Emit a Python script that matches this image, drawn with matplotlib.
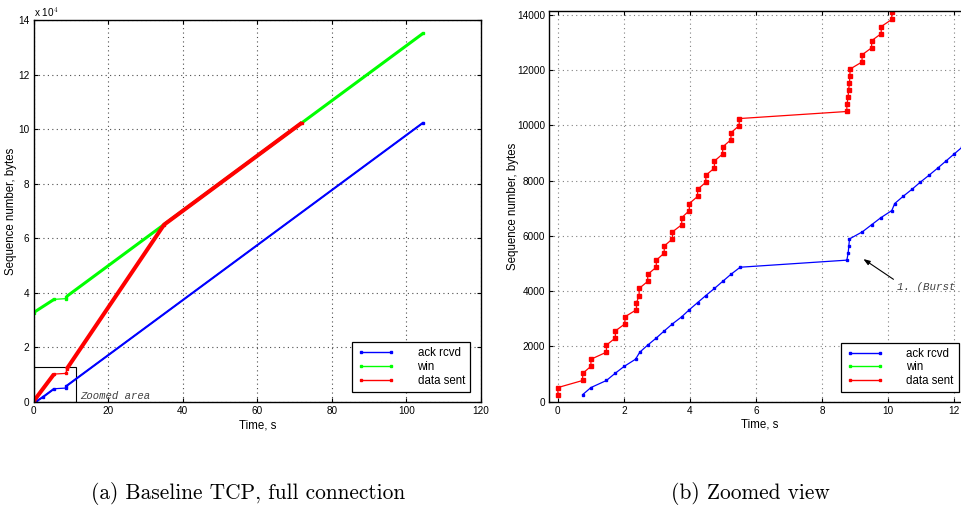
import numpy as np
import matplotlib
matplotlib.use('Agg')
import matplotlib.pyplot as plt
from matplotlib.lines import Line2D
from matplotlib.patches import Rectangle

plt.rcParams['font.family'] = ['Liberation Sans', 'DejaVu Sans']
plt.rcParams['mathtext.fontset'] = 'cm'

# full connection, breakpoints (time in s, sequence number in bytes)
ack_t_full = [0.75, 2.48, 5.52, 8.75, 8.83, 104.5]
ack_full = [256, 1792, 4864, 5120, 5888, 102400]
win_t_full = [0, 5.52, 8.75, 8.83, 104.5]
win_full = [32768, 37632, 37888, 38656, 135168]
sent_t_full = [0, 5.49, 8.75, 8.85, 35.0, 72.0]
sent_full = [256, 10240, 10496, 12032, 65000, 102400]

# first seconds of the connection, every packet
sent_t = [0, 0, 0.75, 0.75, 1.0, 1.0, 1.47, 1.47, 1.74, 1.74, 2.03, 2.03,
          2.38, 2.38, 2.46, 2.46, 2.72, 2.72, 2.98, 2.98, 3.22, 3.22,
          3.47, 3.47, 3.75, 3.75, 3.98, 3.98, 4.23, 4.23, 4.48, 4.48,
          4.74, 4.74, 4.99, 4.99, 5.24, 5.24, 5.49, 5.49,
          8.75, 8.75, 8.79, 8.80, 8.83, 8.84, 8.85,
          9.21, 9.21, 9.50, 9.50, 9.79, 9.79, 10.11, 10.11, 10.18, 10.18]
sent = [256, 512, 768, 1024, 1280, 1536, 1792, 2048, 2304, 2560, 2816, 3072,
        3328, 3584, 3840, 4096, 4352, 4608, 4864, 5120, 5376, 5632,
        5888, 6144, 6400, 6656, 6912, 7168, 7424, 7680, 7936, 8192,
        8448, 8704, 8960, 9216, 9472, 9728, 9984, 10240,
        10496, 10752, 11008, 11264, 11520, 11776, 12032,
        12288, 12544, 12800, 13056, 13312, 13568, 13824, 14080, 14336, 14592]
ack_t = [0.75, 1.0, 1.47, 1.73, 2.01, 2.35, 2.48, 2.72, 2.98, 3.22, 3.47,
         3.75, 3.98, 4.23, 4.48, 4.74, 4.99, 5.24, 5.52,
         8.75, 8.79, 8.81, 8.83, 9.22, 9.50, 9.78, 10.11,
         10.20, 10.45, 10.72, 10.97, 11.24, 11.50, 11.75, 12.00, 12.25, 12.50]
ack = [256, 512, 768, 1024, 1280, 1536, 1792, 2048, 2304, 2560, 2816,
       3072, 3328, 3584, 3840, 4096, 4352, 4608, 4864,
       5120, 5376, 5632, 5888, 6144, 6400, 6656, 6912,
       7168, 7424, 7680, 7936, 8192, 8448, 8704, 8960, 9216, 9472]

labels = ['ack rcvd', 'win', 'data sent']
colors = ['#0000ff', '#00ff00', '#ff0000']

fig = plt.figure(figsize=(9.61, 5.12), dpi=100)
ax1 = fig.add_axes([0.0349, 0.2148, 0.4657, 0.7461])
ax2 = fig.add_axes([0.5716, 0.2154, 0.4378, 0.7631])

grid_kw = dict(linestyle=(0, (1, 3)), linewidth=0.8)


def style_axes(ax, gridcolor):
    ax.grid(True, color=gridcolor, **grid_kw)
    ax.tick_params(direction='in', top=True, right=True, labelsize=7.2,
                   length=3, width=0.8, pad=3)
    for s in ax.spines.values():
        s.set_linewidth(1.0)


# (a) full connection
thick = {'ack rcvd': 1.5, 'win': 2.2, 'data sent': 2.9}
series = [(ack_t_full, ack_full, [(0, 3), (4, 6)]),
          (win_t_full, win_full, [(0, 2), (3, 5)]),
          (sent_t_full, sent_full, [(0, 2), (3, 6)])]
for (t, y, parts), c, lab in zip(series, colors, labels):
    ax1.plot(t, y, color=c, lw=0.9, marker='s', ms=2)
    for a, b in parts:
        ax1.plot(t[a:b], y[a:b], color=c, lw=thick[lab],
                 solid_capstyle='butt')

ax1.set_xlim(0, 120)
ax1.set_ylim(0, 14e4)
ax1.set_xticks(np.arange(0, 121, 20))
ax1.set_yticks(np.arange(0, 14e4 + 1, 2e4))
ax1.set_yticklabels([str(int(v / 1e4)) for v in np.arange(0, 14e4 + 1, 2e4)])
style_axes(ax1, '0.3')
ax1.text(0, 1.003, r'x 10$^4$', transform=ax1.transAxes, fontsize=7.2,
         ha='left', va='bottom', family='Liberation Sans')
ax1.add_patch(Rectangle((0, 0), 11.3, 13000, fill=False, ec='k', lw=0.8))
ax1.text(12.5, 2100, 'Zoomed area', fontsize=7.7, family='Liberation Mono',
         style='italic', color='0.25', va='center', ha='left')
ax1.set_xlabel('Time, s', fontsize=8.3)
ax1.set_ylabel('Sequence number, bytes', fontsize=8.3)
ax1.xaxis.set_label_coords(0.5, -0.045)
ax1.yaxis.set_label_coords(-0.037, 0.5)

# (b) zoomed view
ax2.plot(ack_t, ack, color=colors[0], lw=0.9, marker='s', ms=1.6)
ax2.plot(sent_t, sent, color=colors[2], lw=0.9, marker='s', ms=2.4)
ax2.set_xlim(-0.26, 12.48)
ax2.set_ylim(0, 14130)
ax2.set_xticks(np.arange(0, 13, 2))
ax2.set_yticks(np.arange(0, 14001, 2000))
style_axes(ax2, '0.5')
ax2.set_xlabel('Time, s', fontsize=8.3)
ax2.set_ylabel('Sequence number, bytes', fontsize=8.3)
ax2.xaxis.set_label_coords(0.5, -0.044)
ax2.yaxis.set_label_coords(-0.072, 0.5)
ax2.annotate('1. (Burst', xy=(9.25, 5160), xytext=(10.28, 4150),
             fontsize=7.8, family='Liberation Mono', style='italic',
             color='0.25', va='center', ha='left', annotation_clip=False,
             arrowprops=dict(arrowstyle='-|>,head_length=0.5,head_width=0.18',
                             color='k', lw=0.8, relpos=(0, 1),
                             shrinkA=1, shrinkB=0))

handles = [Line2D([], [], color=c, lw=1.0, marker='s', ms=2) for c in colors]
for ax, anchor in [(ax1, (0.9754, 0.0262)), (ax2, (0.973, 0.024))]:
    leg = ax.legend(handles, labels, loc='lower right', bbox_to_anchor=anchor,
                    borderaxespad=0, fontsize=8.3, numpoints=2,
                    handlelength=3.2, handletextpad=2.0, labelspacing=0.15,
                    borderpad=0.45, fancybox=False, framealpha=1,
                    edgecolor='k')
    leg.get_frame().set_linewidth(0.9)

fig.text(0.258, 0.037, '(a) Baseline TCP, full connection',
         family='cmr10', fontsize=15.4, ha='center', va='center')
fig.text(0.781, 0.037, '(b) Zoomed view',
         family='cmr10', fontsize=15.4, ha='center', va='center')

fig.savefig('out.png', dpi=100)
